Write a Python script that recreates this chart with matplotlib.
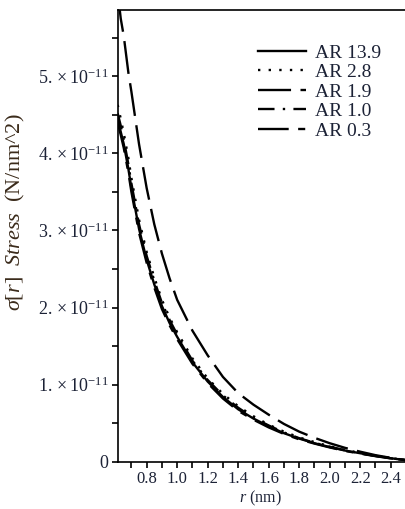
import matplotlib
matplotlib.use("Agg")
import matplotlib.pyplot as plt
from matplotlib.ticker import FuncFormatter
import numpy as np

plt.rcParams['font.family'] = ['Liberation Serif', 'DejaVu Serif']
plt.rcParams['mathtext.fontset'] = 'custom'
plt.rcParams['mathtext.rm'] = 'Liberation Serif'
plt.rcParams['mathtext.it'] = 'Liberation Serif:italic'

# radius (nm) and stress values (units of 1e-11 N/nm^2)
r = [0.61, 0.63, 0.65, 0.68, 0.70, 0.75, 0.80, 0.85, 0.90, 0.95, 1.00, 1.10, 1.20,
     1.30, 1.40, 1.50, 1.60, 1.70, 1.80, 1.90, 2.00, 2.10, 2.20, 2.30, 2.40, 2.50]

ar_13_9 = [4.45, 4.28, 4.12, 3.80, 3.55, 3.02, 2.62, 2.30, 2.02, 1.80, 1.62, 1.29, 1.04,
           0.84, 0.68, 0.56, 0.46, 0.37, 0.30, 0.24, 0.19, 0.145, 0.11, 0.075, 0.045, 0.02]
ar_2_8 = [4.63, 4.45, 4.26, 3.94, 3.68, 3.14, 2.72, 2.39, 2.10, 1.87, 1.68, 1.34, 1.08,
          0.88, 0.72, 0.59, 0.48, 0.39, 0.315, 0.255, 0.20, 0.152, 0.112, 0.078, 0.047, 0.02]
ar_1_9 = [6.10, 5.75, 5.52, 5.05, 4.80, 4.12, 3.55, 3.08, 2.70, 2.38, 2.10, 1.70, 1.38,
          1.10, 0.89, 0.74, 0.61, 0.49, 0.39, 0.31, 0.24, 0.18, 0.13, 0.085, 0.05, 0.02]
ar_1_0 = [4.52, 4.36, 4.18, 3.86, 3.61, 3.08, 2.67, 2.35, 2.06, 1.84, 1.65, 1.31, 1.06,
          0.86, 0.70, 0.57, 0.47, 0.38, 0.305, 0.245, 0.195, 0.148, 0.11, 0.076, 0.046, 0.02]
ar_0_3 = [4.40, 4.24, 4.07, 3.75, 3.50, 2.97, 2.58, 2.26, 1.98, 1.77, 1.59, 1.27, 1.02,
          0.82, 0.66, 0.545, 0.445, 0.36, 0.29, 0.235, 0.185, 0.14, 0.105, 0.072, 0.043, 0.02]

labels = ['AR 13.9', 'AR 2.8', 'AR 1.9', 'AR 1.0', 'AR 0.3']
series = [ar_13_9, ar_2_8, ar_1_9, ar_1_0, ar_0_3]
styles = ['-', (0, (1, 3.5)), (0, (14, 4)), (0, (7, 3.5, 1, 3.5)), (0, (13, 4, 3, 4))]

fig = plt.figure(figsize=(4.06, 5.09), dpi=100)
ax = fig.add_axes([0.2906, 0.0929, 0.7094, 0.8874])

for vals, lab, ls in zip(series, labels, styles):
    ax.plot(r, np.array(vals) * 1e-11, color='black', lw=1.7, linestyle=ls, label=lab)

ax.set_xlim(0.612, 2.5)
ax.set_ylim(0, 5.86e-11)

ax.spines['right'].set_visible(False)
for s in ['left', 'bottom', 'top']:
    ax.spines[s].set_linewidth(1.2)

ax.set_xticks(np.arange(0.8, 2.41, 0.2))
ax.set_xticks(np.arange(0.7, 2.51, 0.2), minor=True)
ax.xaxis.set_major_formatter(FuncFormatter(lambda v, p: '%.1f' % v))
ax.set_yticks(np.arange(0, 5.1e-11, 1e-11))
ax.set_yticks(np.arange(0.5e-11, 5.9e-11, 1e-11), minor=True)


def yfmt(v, p):
    n = int(round(v / 1e-11))
    if n == 0:
        return '0'
    return r'$\mathregular{%d.\times10^{-11}}$' % n


ax.yaxis.set_major_formatter(FuncFormatter(yfmt))
txtcol = '#1c2236'
ax.tick_params(which='both', direction='out', length=4, width=1.2,
               colors='black', labelcolor=txtcol)
ax.tick_params(axis='x', which='both', top=False, pad=3, labelsize=12)
ax.tick_params(axis='y', which='both', pad=3, labelsize=13)

ax.set_xlabel(r'$\mathit{r}$ (nm)', fontsize=11.5, color=txtcol)
ax.xaxis.set_label_coords(0.493, -0.06)
ax.set_ylabel(r'$\mathit{\sigma[r]\ \ Stress}$  (N/nm^2)', fontsize=16, color='#3a2a1a')
ax.yaxis.set_label_coords(-0.315, 0.553)

leg = ax.legend(loc='upper left', bbox_to_anchor=(0.486, 0.925), frameon=False,
                fontsize=14, handlelength=2.45, handletextpad=0.5, labelspacing=0.1,
                borderpad=0, borderaxespad=0)
for t in leg.get_texts():
    t.set_color(txtcol)

fig.savefig('out.png', dpi=100)
